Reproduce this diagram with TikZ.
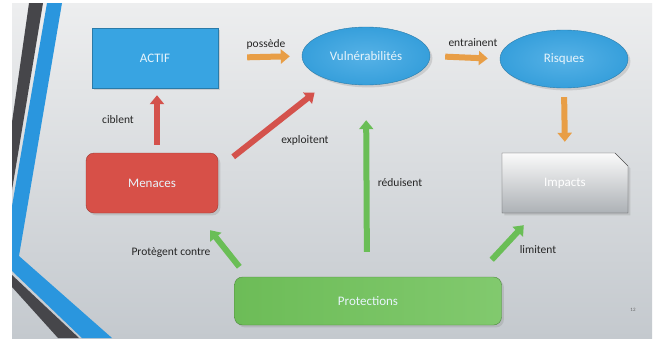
\documentclass[tikz,border=0pt]{standalone}
\usepackage{fontspec}
\setmainfont{Carlito}
\usepackage{xcolor}
\usepackage{tikz}
\usetikzlibrary{shapes}
\usetikzlibrary{arrows.meta}
\usetikzlibrary{shadows}

\begin{document}
\begin{tikzpicture}[x=1pt, y=-1pt, thick]

  % Define Colors
  \definecolor{slidetop}{RGB}{237,238,239}
  \definecolor{slidebot}{RGB}{196,201,206}
  \definecolor{stripedark}{RGB}{70,70,74}
  \definecolor{stripeblue}{RGB}{42,150,222}
  \definecolor{actifblue}{RGB}{56,164,226}
  \definecolor{menred}{RGB}{226,84,76}
  \definecolor{protgreen}{RGB}{112,194,90}
  \definecolor{arrorange}{RGB}{232,158,70}
  \definecolor{arrred}{RGB}{212,82,76}
  \definecolor{arrgreen}{RGB}{106,190,86}

  % Node styles
  \tikzstyle{nodetext}=[text=white!88!actifblue, font=\fontsize{13}{15}\selectfont]
  \tikzstyle{bluebox}=[rectangle, draw=actifblue!75!black, thin, nodetext, left color=actifblue, middle color=actifblue!78!white, right color=actifblue, minimum width=126pt, minimum height=60pt, drop shadow={opacity=0.25}]
  \tikzstyle{blueell}=[ellipse, draw=actifblue!75!black, thin, nodetext, inner color=actifblue!85!white, outer color=actifblue!97!black, minimum width=128pt, minimum height=58pt, drop shadow={opacity=0.25}]
  \tikzstyle{redbox}=[rectangle, rounded corners=8pt, draw=menred!70!black, thin, nodetext, left color=menred!95!black, middle color=menred!82!white, right color=menred!95!black, minimum width=132pt, minimum height=60pt, drop shadow={opacity=0.25}]
  \tikzstyle{greenbox}=[rectangle, rounded corners=8pt, draw=protgreen!70!black, thin, nodetext, left color=protgreen!97!black, right color=protgreen!88!white, minimum width=267pt, minimum height=48pt, drop shadow={opacity=0.25}]
  \tikzstyle{graybox}=[chamfered rectangle, chamfered rectangle corners=north east, chamfered rectangle xsep=7pt, chamfered rectangle ysep=6pt, draw=gray!60!black, thin, nodetext, text=white, top color=white!96!gray, bottom color=slidebot!88!black, minimum width=126pt, minimum height=60pt, drop shadow={opacity=0.25}]

  \tikzstyle{lbl}=[text=black!85, font=\fontsize{11.5}{13}\selectfont]

  \tikzstyle{O_arrow}=[line width=6pt, arrorange, -{Triangle[width=14pt,length=9pt]}]
  \tikzstyle{R_arrow}=[line width=6pt, arrred, -{Triangle[width=14pt,length=9pt]}]
  \tikzstyle{G_arrow}=[line width=6pt, arrgreen, -{Triangle[width=14pt,length=9pt]}]

  \useasboundingbox (0,0) rectangle (654,338);

  % Slide background
  \fill[white] (0,0) rectangle (654,338);
  \shade[top color=slidetop, bottom color=slidebot] (12,3) rectangle (652,338);
  \fill[stripedark] (29,3) -- (43,3) -- (12,190) -- (12,122) -- cycle;
  \fill[stripeblue] (47,3) -- (62,3) -- (19,256) -- (112,338) -- (82,338) -- (12,271) -- (12,206) -- cycle;
  \fill[stripedark] (12,275) -- (79,338) -- (58,338) -- (12,287) -- cycle;

  % Nodes
  \node[bluebox] (n_actif) at (155,58) {ACTIF};
  \node[blueell] (n_vuln) at (366,56) {Vulnérabilités};
  \node[blueell] (n_risques) at (564,59) {Risques};
  \node[graybox] (n_impacts) at (565,183) {Impacts};
  \node[redbox] (n_menaces) at (152,183) {Menaces};
  \node[greenbox] (n_prot) at (368,301) {Protections};

  % Orange links
  \draw[O_arrow, shorten <=29pt, shorten >=12pt] (n_actif.east) -- (n_vuln.west);
  \draw[O_arrow, shorten <=15pt, shorten >=12pt] (n_vuln.east) -- (n_risques.west);
  \draw[O_arrow, shorten <=9pt, shorten >=11pt] (n_risques.south) -- (n_impacts.north);

  % Red links
  \draw[R_arrow, shorten <=8pt, shorten >=7pt] ([xshift=5pt]n_menaces.north) -- ([xshift=2pt]n_actif.south);
  \draw[R_arrow] ([shift={(15,4)}]n_menaces.north east) -- ([shift={(-6,16)}]n_vuln.south west);

  % Green links
  \draw[G_arrow, shorten <=25pt, shorten >=35pt] ([xshift=-1pt]n_prot.north) -- (n_vuln.south);
  \draw[G_arrow] ([shift={(5,-10)}]n_prot.north west) -- ([shift={(-8,17)}]n_menaces.south east);
  \draw[G_arrow] ([shift={(-10,-17)}]n_prot.north east) -- ([shift={(22,12)}]n_impacts.south west);

  % Labels
  \node[lbl] (t_possede) at (266,44) {possède};
  \node[lbl] (t_entrainent) at (473,43) {entrainent};
  \node[lbl] (t_ciblent) at (118,120) {ciblent};
  \node[lbl] (t_exploitent) at (305,140) {exploitent};
  \node[lbl] (t_reduisent) at (400,183) {réduisent};
  \node[lbl] (t_protegent) at (171,253) {Protègent contre};
  \node[lbl] (t_limitent) at (538,250) {limitent};

  \node[text=black!60, font=\fontsize{5}{6}\selectfont] (t_page) at (633,310) {12};

\end{tikzpicture}
\end{document}
